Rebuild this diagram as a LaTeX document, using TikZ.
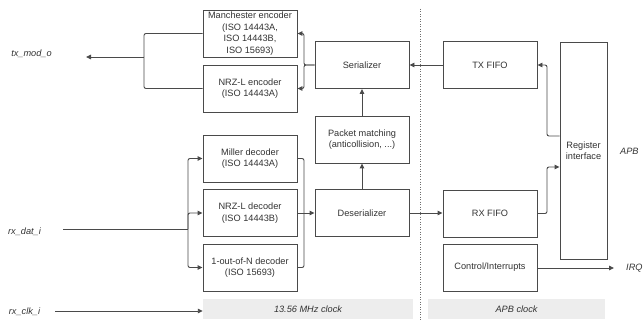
\documentclass[tikz,border=0pt]{standalone}
\usepackage{fontspec}
\setmainfont{Liberation Sans}
\usetikzlibrary{arrows.meta}
\definecolor{ln}{HTML}{4A4A4A}
\definecolor{tx}{HTML}{333333}
\definecolor{bar}{HTML}{EDEDED}
\tikzset{
  box/.style={draw=ln, line width=0.9pt, fill=white, minimum width=94pt, minimum height=47pt, inner sep=1pt, align=center, text=tx, font=\fontsize{9.2}{11.5}\selectfont},
  conn/.style={draw=ln, line width=0.9pt, rounded corners=2pt},
  arr/.style={conn, -{Triangle[length=5pt,width=4.5pt]}},
  lbl/.style={text=tx, font=\fontsize{9.2}{11.5}\selectfont\itshape, inner sep=0pt},
  clkbar/.style={fill=bar, draw=none, minimum height=20pt, inner sep=0pt, text=tx, font=\fontsize{9.2}{11.5}\selectfont\itshape}
}
\begin{document}
\begin{tikzpicture}[x=1pt,y=-1pt]
\useasboundingbox (0,0) rectangle (644,320);
% boxes
\node[box] (man) at (250,33.5) {Manchester encoder\\(ISO 14443A,\\ISO 14443B,\\ISO 15693)};
\node[box] (nrzenc) at (250,88.5) {NRZ-L encoder\\(ISO 14443A)};
\node[box] (miller) at (250,158.5) {Miller decoder\\(ISO 14443A)};
\node[box] (nrzdec) at (250,213) {NRZ-L decoder\\(ISO 14443B)};
\node[box] (oon) at (250,267.5) {1-out-of-N decoder\\(ISO 15693)};
\node[box] (ser) at (362,65) {Serializer};
\node[box] (pm) at (362,139.5) {Packet matching\\(anticollision, ...)};
\node[box] (des) at (362,213) {Deserializer};
\node[box] (txf) at (490,65) {TX FIFO};
\node[box] (rxf) at (490,213.5) {RX FIFO};
\node[box] (ctl) at (490,267.5) {Control/Interrupts};
\node[box, minimum width=47pt, minimum height=217pt] (reg) at (583.5,150.5) {Register\\interface};
% clock bars
\node[clkbar, minimum width=210pt] (clk1) at (308,309) {13.56 MHz clock};
\node[clkbar, minimum width=177pt] (clk2) at (516.5,309) {APB clock};
% dotted separator
\coordinate (dtop) at (420,9);
\coordinate (dbot) at (420,320);
\draw[ln!80, line width=0.9pt, dash pattern=on 1pt off 1.5pt] (dtop) -- (dbot);
% labels
\node[lbl] (txmod) at (31.5,54) {tx\_mod\_o};
\node[lbl] (rxdat) at (24.5,232) {rx\_dat\_i};
\node[lbl] (rxclk) at (24.5,312) {rx\_clk\_i};
\node[lbl, anchor=west] (apb) at (620,151) {APB};
\node[lbl, anchor=west] (irqt) at (626,268.5) {IRQ};
% encoders to tx_mod_o
\coordinate (txj) at (144,57);
\coordinate (txo) at (86,57);
\draw[conn] (man.west) -| (txj);
\draw[conn] (nrzenc.west) -| (txj);
\draw[arr] (txj) -- (txo);
% serializer to encoders
\coordinate (sj) at (304,65);
\draw[arr] (ser.west) -- (sj) |- (man.east);
\draw[arr] (ser.west) -- (sj) |- (nrzenc.east);
% packet matching
\draw[arr] (pm.north) -- (ser.south);
\draw[arr] (des.north) -- (pm.south);
% decoders to deserializer
\coordinate (dj) at (304,213);
\draw[conn] (miller.east) -| (dj);
\draw[conn] (oon.east) -| (dj);
\draw[arr] (nrzdec.east) -- (des.west);
% rx_dat_i
\coordinate (rxs) at (63,229);
\coordinate (rj) at (188,229);
\draw[conn] (rxs) -- (rj);
\draw[arr] (rj) |- (miller.west);
\draw[arr] (rj) |- (nrzdec.west);
\draw[arr] (rj) |- (oon.west);
% rx_clk_i
\coordinate (rcs) at (55,311);
\draw[arr] (rcs) -- (rcs -| clk1.west);
% FIFOs
\draw[arr] (des.east) -- (rxf.west |- des.east);
\draw[arr] (txf.west) -- (ser.east);
\coordinate (rg1) at (547,136);
\draw[arr] (reg.west |- rg1) -- (rg1) |- (txf.east);
\coordinate (rg2) at (547,167);
\draw[arr] (rxf.east) -| (rg2) -- (reg.west |- rg2);
% IRQ
\coordinate (irq) at (614,268);
\draw[arr] (ctl.east |- irq) -- (irq);
\end{tikzpicture}
\end{document}
